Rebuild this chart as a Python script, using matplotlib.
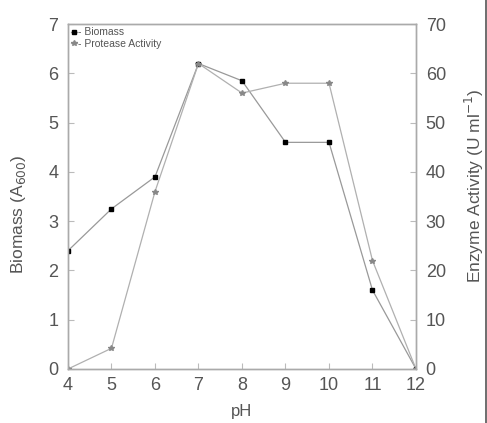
import matplotlib
matplotlib.use("Agg")
import matplotlib.pyplot as plt
from matplotlib.lines import Line2D

plt.rcParams['font.family'] = ['Liberation Sans', 'DejaVu Sans']

ph = [4, 5, 6, 7, 8, 9, 10, 11, 12]
biomass = [2.4, 3.25, 3.9, 6.2, 5.85, 4.6, 4.6, 1.6, 0.0]
protease = [0, 4.2, 36, 62, 56, 58, 58, 22, 0]

text_c = '#555555'
spine_c = '#aaaaaa'

fig = plt.figure(figsize=(4.87, 4.23), dpi=100)
ax = fig.add_axes([0.1396, 0.1277, 0.7146, 0.8153])
ax2 = ax.twinx()

lb, = ax.plot(ph, biomass, color='#999999', lw=0.9, marker='s', ms=3.5,
              mfc='black', mec='black', zorder=3)
lp, = ax2.plot(ph, protease, color='#b0b0b0', lw=0.9, marker='*', ms=4,
               mfc='#888888', mec='#888888', zorder=2)

ax.set_xlim(4, 12)
ax.set_ylim(0, 7)
ax2.set_ylim(0, 70)
ax.set_xticks(ph)
ax.set_yticks(range(0, 8))
ax2.set_yticks(range(0, 71, 10))

for a in (ax, ax2):
    for s in a.spines.values():
        s.set_color(spine_c)
        s.set_linewidth(1.0)
    a.tick_params(direction='in', length=4, color='#bbbbbb', labelcolor=text_c,
                  labelsize=13, pad=7)
ax.tick_params(axis='x', pad=6)

ax.set_xlabel('pH', fontsize=12, color=text_c)
ax.xaxis.set_label_coords(0.5, -0.102)
ax.set_ylabel('Biomass (A$_{600}$)', fontsize=12.5, color=text_c)
ax.yaxis.set_label_coords(-0.115, 0.45)
ax2.set_ylabel('Enzyme Activity (U ml$^{-1}$)', fontsize=12.5, color=text_c)
ax2.yaxis.set_label_coords(1.135, 0.53)

ax.legend([lb, lp], ['- Biomass', '- Protease Activity'], loc='upper left',
          frameon=False, fontsize=7.5, handlelength=0.6, handletextpad=0.1,
          labelspacing=0.15, borderaxespad=0.1, borderpad=0.2,
          labelcolor=text_c, bbox_to_anchor=(0.0, 1.0))

fig.add_artist(Line2D([0.997, 0.997], [0.0, 1.0], transform=fig.transFigure,
                      color='#555555', lw=1.2))

fig.savefig('out.png', dpi=100)
